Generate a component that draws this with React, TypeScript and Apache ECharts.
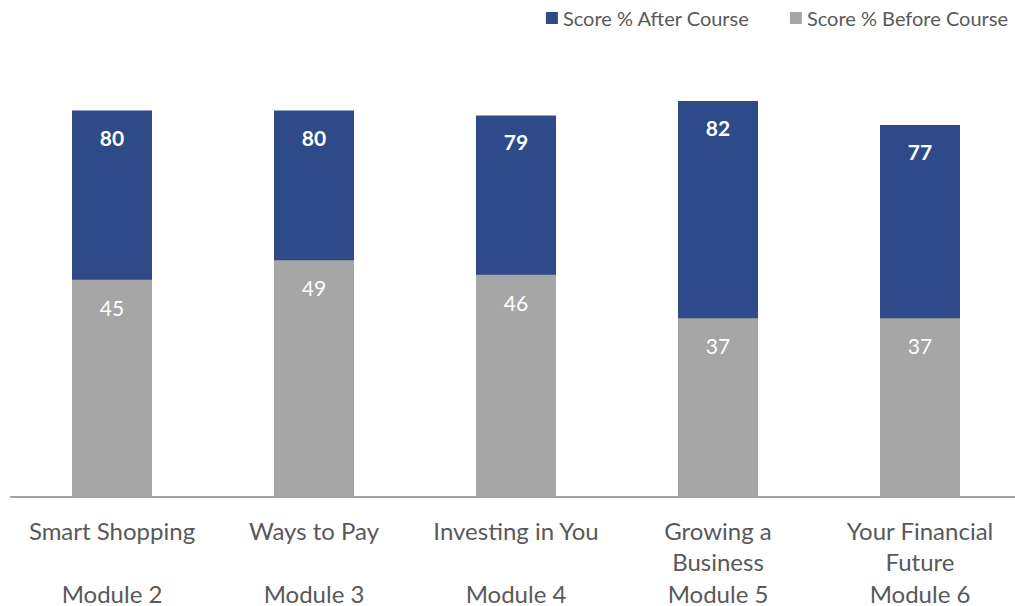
import React, { useEffect, useRef } from "react";
import * as echarts from "echarts";

const categories = ["Smart Shopping", "Ways to Pay", "Investing in You", "Growing a\nBusiness", "Your Financial\nFuture"];
const modules = ["Module 2", "Module 3", "Module 4", "Module 5", "Module 6"];
const afterCourse = [80, 80, 79, 82, 77];
const beforeCourse = [45, 49, 46, 37, 37];

const BLUE = "#2E4A88";
const GREY = "#A6A6A6";
const TEXT = "#595959";
const FONT = "Lato, 'Open Sans', sans-serif";

export default function App() {
  const ref = useRef<HTMLDivElement>(null);
  useEffect(() => {
    if (!ref.current) return;
    const chart = echarts.init(ref.current, undefined, { renderer: "svg" });
    chart.setOption({
      animation: false,
      textStyle: { fontFamily: FONT },
      legend: {
        data: ["Score % After Course", "Score % Before Course"],
        right: 2,
        top: 3,
        icon: "rect",
        itemWidth: 12,
        itemHeight: 12,
        itemGap: 40,
        textStyle: { color: TEXT, fontSize: 20, fontFamily: FONT },
      },
      grid: { left: 11, width: 1010, top: 14, height: 483, outerBoundsMode: "none", containLabel: false },
      xAxis: {
        type: "category",
        data: categories,
        axisLine: { lineStyle: { color: "#A0A0A0", width: 2 } },
        axisTick: { show: false },
        axisLabel: {
          interval: 0,
          margin: 18,
          color: TEXT,
          fontSize: 24,
          fontFamily: FONT,
          formatter: (v: string, i: number) => {
            const parts = v.split("\n");
            if (parts.length < 2) parts.push(" ");
            return parts.map((p) => `{n|${p}}`).join("\n") + `\n{s| }{m|${modules[i]}}`;
          },
          rich: {
            n: { fontSize: 24, lineHeight: 31, color: TEXT, fontFamily: FONT },
            s: { fontSize: 24, lineHeight: 28, width: 0, color: TEXT, fontFamily: FONT },
            m: { fontSize: 24, lineHeight: 20, verticalAlign: "bottom", color: TEXT, fontFamily: FONT },
          },
        },
      },
      yAxis: {
        type: "value",
        min: 0,
        max: 100,
        show: false,
        splitLine: { show: false },
      },
      series: [
        {
          name: "Score % After Course",
          type: "bar",
          data: afterCourse,
          barWidth: 80,
          itemStyle: { color: BLUE },
          label: {
            show: true,
            position: "insideTop",
            distance: 16,
            color: "#fff",
            fontSize: 21,
            fontWeight: "bold",
            fontFamily: FONT,
          },
        },
        {
          name: "Score % Before Course",
          type: "bar",
          data: beforeCourse,
          barWidth: 80,
          barGap: "-100%",
          itemStyle: { color: GREY },
          label: {
            show: true,
            position: "insideTop",
            distance: 17,
            color: "#fff",
            fontSize: 21,
            fontFamily: FONT,
          },
        },
      ],
    });
    return () => chart.dispose();
  }, []);
  return (
    <div
      ref={ref}
      style={{ position: "fixed", left: 0, top: 0, width: 1015, height: 606, background: "#fff" }}
    />
  );
}
